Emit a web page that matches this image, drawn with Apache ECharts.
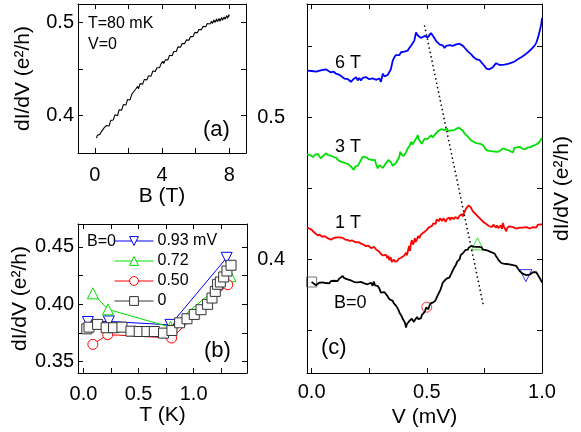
<!DOCTYPE html>
<html><head><meta charset="utf-8">
<script src="https://cdn.jsdelivr.net/npm/echarts@6/dist/echarts.min.js"></script>
<style>html,body{margin:0;padding:0;background:#fff}#c{width:581px;height:432px}</style>
</head><body><div id="c"></div>
<script>
// ---------- Panel (a): dI/dV vs B at T=80 mK, V=0 ----------
const aB = [0.10,0.15,0.20,0.30,0.40,0.45,0.55,0.60,0.70,0.80,0.85,0.95,1.05,1.10,1.20,1.30,1.35,1.45,1.55,1.60,1.70,1.80,1.85,1.95,2.05,2.10,2.20,2.30,2.35,2.45,2.55,2.60,2.70,2.80,2.85,2.95,3.05,3.10,3.20,3.30,3.35,3.45,3.55,3.60,3.70,3.80,3.85,3.95,4.05,4.10,4.20,4.30,4.35,4.45,4.55,4.60,4.70,4.80,4.85,4.95,5.05,5.10,5.20,5.30,5.35,5.45,5.55,5.60,5.70,5.80,5.85,5.95,6.05,6.10,6.20,6.30,6.35,6.45,6.55,6.60,6.70,6.80,6.85,6.95,7.00,7.10,7.15,7.25,7.30,7.40,7.45,7.55,7.60,7.70,7.75,7.85,7.90,7.98,8.00];
const aG = [0.3760,0.3790,0.3775,0.3800,0.3830,0.3815,0.3870,0.3850,0.3895,0.3905,0.3890,0.3950,0.3970,0.3955,0.4010,0.4020,0.4000,0.4065,0.4080,0.4060,0.4120,0.4135,0.4115,0.4175,0.4190,0.4170,0.4230,0.4255,0.4235,0.4290,0.4315,0.4290,0.4345,0.4360,0.4340,0.4390,0.4410,0.4385,0.4430,0.4445,0.4425,0.4480,0.4500,0.4475,0.4515,0.4535,0.4515,0.4560,0.4585,0.4560,0.4600,0.4620,0.4600,0.4650,0.4665,0.4645,0.4690,0.4710,0.4690,0.4740,0.4755,0.4735,0.4775,0.4795,0.4775,0.4815,0.4835,0.4810,0.4850,0.4870,0.4850,0.4895,0.4910,0.4890,0.4925,0.4945,0.4925,0.4960,0.4975,0.4955,0.4990,0.5005,0.4985,0.5015,0.4990,0.5030,0.5000,0.5040,0.5010,0.5045,0.5015,0.5055,0.5025,0.5060,0.5035,0.5075,0.5045,0.5085,0.5065];

// ---------- Panel (b): dI/dV vs T at B=0 for several V ----------
const bT93 = [0.04,0.23,0.79,1.30];
const bG93 = [0.3845,0.3850,0.3820,0.4405];
const bT72 = [0.085,0.222,0.79,1.335];
const bG72 = [0.4095,0.3955,0.3800,0.4245];
const bT50 = [0.085,0.22,0.80,1.31];
const bG50 = [0.3650,0.3735,0.3705,0.4170];
const bT0 = [0.03,0.05,0.128,0.206,0.273,0.349,0.431,0.506,0.576,0.643,0.727,0.803,0.873,0.94,1.006,1.067,1.127,1.167,1.197,1.218,1.243,1.273,1.303,1.34];
const bG0 = [0.3785,0.3800,0.3824,0.3795,0.3795,0.3800,0.3765,0.3762,0.3762,0.3762,0.3748,0.3771,0.3838,0.3873,0.3911,0.3952,0.3999,0.4054,0.4112,0.4174,0.4194,0.4238,0.4290,0.4340];
const bNames = ['0.93 mV','0.72','0.50','0'];

// ---------- Panel (c): dI/dV vs V at several B ----------
const c6T = [[-0.02,0.5330],[0.0,0.5328],[0.02,0.5324],[0.035,0.5330],[0.05,0.5336],[0.062,0.5340],[0.075,0.5326],[0.084,0.5318],[0.095,0.5324],[0.105,0.5310],[0.113,0.5306],[0.122,0.5300],[0.13,0.5290],[0.142,0.5275],[0.15,0.5288],[0.158,0.5270],[0.165,0.5282],[0.171,0.5252],[0.18,0.5268],[0.186,0.5280],[0.193,0.5285],[0.2,0.5262],[0.207,0.5278],[0.214,0.5262],[0.222,0.5280],[0.229,0.5270],[0.236,0.5285],[0.243,0.5286],[0.25,0.5270],[0.258,0.5282],[0.265,0.5276],[0.272,0.5288],[0.279,0.5266],[0.287,0.5262],[0.294,0.5275],[0.301,0.5252],[0.309,0.5308],[0.316,0.5290],[0.323,0.5290],[0.33,0.5300],[0.337,0.5308],[0.344,0.5340],[0.352,0.5400],[0.359,0.5425],[0.366,0.5440],[0.374,0.5448],[0.381,0.5440],[0.388,0.5460],[0.395,0.5450],[0.402,0.5465],[0.41,0.5470],[0.417,0.5472],[0.424,0.5490],[0.432,0.5507],[0.439,0.5520],[0.446,0.5542],[0.45,0.5530],[0.453,0.5600],[0.46,0.5580],[0.468,0.5577],[0.475,0.5560],[0.483,0.5565],[0.49,0.5575],[0.497,0.5589],[0.504,0.5565],[0.511,0.5570],[0.518,0.5595],[0.526,0.5600],[0.533,0.5560],[0.54,0.5540],[0.548,0.5530],[0.555,0.5515],[0.562,0.5505],[0.57,0.5507],[0.577,0.5490],[0.584,0.5505],[0.591,0.5495],[0.6,0.5510],[0.605,0.5500],[0.613,0.5505],[0.62,0.5510],[0.628,0.5515],[0.635,0.5520],[0.642,0.5520],[0.65,0.5513],[0.657,0.5505],[0.665,0.5490],[0.672,0.5478],[0.678,0.5466],[0.686,0.5455],[0.693,0.5445],[0.7,0.5430],[0.707,0.5420],[0.714,0.5412],[0.722,0.5400],[0.729,0.5405],[0.736,0.5390],[0.743,0.5378],[0.75,0.5365],[0.758,0.5345],[0.765,0.5338],[0.772,0.5340],[0.78,0.5345],[0.787,0.5355],[0.794,0.5368],[0.801,0.5383],[0.808,0.5378],[0.816,0.5370],[0.823,0.5374],[0.837,0.5373],[0.852,0.5378],[0.866,0.5385],[0.881,0.5395],[0.895,0.5410],[0.91,0.5425],[0.924,0.5440],[0.939,0.5460],[0.953,0.5480],[0.968,0.5507],[0.976,0.5530],[0.983,0.5565],[0.99,0.5610],[0.997,0.5660],[1.0,0.5700]];
const c3T = [[-0.02,0.4741],[-0.005,0.4735],[0.005,0.4722],[0.015,0.4738],[0.026,0.4745],[0.033,0.4728],[0.04,0.4713],[0.05,0.4730],[0.062,0.4748],[0.072,0.4735],[0.084,0.4731],[0.095,0.4722],[0.106,0.4717],[0.115,0.4700],[0.127,0.4689],[0.135,0.4695],[0.149,0.4678],[0.16,0.4670],[0.171,0.4654],[0.177,0.4665],[0.183,0.4631],[0.19,0.4655],[0.193,0.4666],[0.2,0.4660],[0.207,0.4678],[0.214,0.4690],[0.222,0.4725],[0.229,0.4731],[0.236,0.4720],[0.243,0.4731],[0.25,0.4705],[0.258,0.4713],[0.265,0.4700],[0.275,0.4701],[0.28,0.4670],[0.287,0.4642],[0.294,0.4665],[0.301,0.4666],[0.309,0.4645],[0.316,0.4654],[0.323,0.4680],[0.333,0.4701],[0.338,0.4690],[0.345,0.4683],[0.352,0.4660],[0.359,0.4654],[0.366,0.4680],[0.374,0.4689],[0.38,0.4720],[0.385,0.4759],[0.39,0.4740],[0.395,0.4742],[0.4,0.4728],[0.406,0.4717],[0.411,0.4760],[0.417,0.4783],[0.425,0.4800],[0.432,0.4829],[0.438,0.4810],[0.446,0.4818],[0.453,0.4850],[0.461,0.4876],[0.466,0.4845],[0.472,0.4834],[0.478,0.4815],[0.483,0.4806],[0.49,0.4850],[0.497,0.4864],[0.504,0.4850],[0.511,0.4848],[0.519,0.4876],[0.525,0.4860],[0.53,0.4857],[0.538,0.4885],[0.548,0.4904],[0.555,0.4912],[0.562,0.4918],[0.57,0.4910],[0.577,0.4911],[0.582,0.4925],[0.587,0.4923],[0.592,0.4905],[0.598,0.4895],[0.605,0.4910],[0.613,0.4923],[0.62,0.4912],[0.627,0.4911],[0.632,0.4925],[0.635,0.4927],[0.642,0.4927],[0.649,0.4923],[0.657,0.4905],[0.664,0.4888],[0.672,0.4875],[0.678,0.4865],[0.685,0.4853],[0.693,0.4838],[0.7,0.4825],[0.711,0.4822],[0.722,0.4818],[0.732,0.4815],[0.743,0.4806],[0.75,0.4790],[0.758,0.4771],[0.768,0.4765],[0.78,0.4764],[0.795,0.4760],[0.809,0.4759],[0.82,0.4768],[0.83,0.4783],[0.842,0.4776],[0.852,0.4771],[0.864,0.4762],[0.874,0.4755],[0.881,0.4788],[0.89,0.4790],[0.903,0.4794],[0.914,0.4782],[0.925,0.4775],[0.932,0.4786],[0.939,0.4790],[0.95,0.4792],[0.961,0.4800],[0.972,0.4808],[0.983,0.4818],[0.992,0.4835],[1.0,0.4857]];
const c1T = [[-0.02,0.4225],[-0.01,0.4218],[0.0,0.4210],[0.008,0.4195],[0.015,0.4182],[0.026,0.4170],[0.035,0.4175],[0.045,0.4160],[0.055,0.4165],[0.062,0.4152],[0.072,0.4148],[0.084,0.4140],[0.095,0.4150],[0.106,0.4156],[0.113,0.4148],[0.12,0.4155],[0.128,0.4145],[0.135,0.4152],[0.145,0.4140],[0.156,0.4138],[0.165,0.4130],[0.175,0.4135],[0.185,0.4126],[0.195,0.4120],[0.205,0.4122],[0.214,0.4112],[0.225,0.4105],[0.236,0.4093],[0.245,0.4098],[0.258,0.4080],[0.265,0.4092],[0.272,0.4088],[0.28,0.4070],[0.287,0.4075],[0.294,0.4055],[0.3,0.4040],[0.305,0.4045],[0.309,0.4028],[0.316,0.4040],[0.323,0.4032],[0.328,0.4010],[0.333,0.4025],[0.338,0.3995],[0.343,0.4015],[0.348,0.3982],[0.352,0.3977],[0.357,0.4000],[0.362,0.3985],[0.367,0.3995],[0.372,0.3988],[0.378,0.4005],[0.383,0.4000],[0.388,0.4012],[0.394,0.4005],[0.4,0.4025],[0.405,0.4018],[0.41,0.4048],[0.414,0.4030],[0.418,0.4060],[0.423,0.4095],[0.427,0.4060],[0.431,0.4110],[0.435,0.4135],[0.44,0.4105],[0.444,0.4120],[0.448,0.4150],[0.452,0.4125],[0.457,0.4140],[0.462,0.4165],[0.468,0.4150],[0.474,0.4175],[0.48,0.4170],[0.486,0.4190],[0.492,0.4180],[0.498,0.4205],[0.504,0.4215],[0.51,0.4228],[0.516,0.4240],[0.522,0.4235],[0.528,0.4255],[0.533,0.4265],[0.538,0.4250],[0.543,0.4282],[0.548,0.4292],[0.553,0.4270],[0.557,0.4290],[0.562,0.4287],[0.567,0.4272],[0.572,0.4290],[0.577,0.4280],[0.582,0.4265],[0.587,0.4285],[0.591,0.4280],[0.597,0.4295],[0.602,0.4278],[0.607,0.4296],[0.613,0.4296],[0.618,0.4285],[0.624,0.4300],[0.63,0.4290],[0.635,0.4287],[0.641,0.4305],[0.646,0.4298],[0.652,0.4320],[0.657,0.4303],[0.662,0.4330],[0.667,0.4345],[0.671,0.4360],[0.676,0.4372],[0.681,0.4380],[0.685,0.4390],[0.69,0.4370],[0.695,0.4355],[0.7,0.4339],[0.708,0.4325],[0.715,0.4315],[0.722,0.4303],[0.73,0.4290],[0.737,0.4278],[0.743,0.4268],[0.75,0.4257],[0.758,0.4250],[0.765,0.4238],[0.772,0.4233],[0.778,0.4242],[0.784,0.4230],[0.789,0.4245],[0.794,0.4240],[0.8,0.4225],[0.805,0.4240],[0.81,0.4220],[0.816,0.4222],[0.821,0.4240],[0.826,0.4215],[0.83,0.4257],[0.835,0.4230],[0.84,0.4218],[0.845,0.4198],[0.85,0.4225],[0.855,0.4215],[0.859,0.4233],[0.866,0.4222],[0.874,0.4228],[0.881,0.4222],[0.888,0.4218],[0.895,0.4228],[0.903,0.4225],[0.91,0.4233],[0.918,0.4225],[0.925,0.4222],[0.932,0.4228],[0.939,0.4222],[0.946,0.4218],[0.954,0.4230],[0.961,0.4228],[0.968,0.4233],[0.975,0.4225],[0.982,0.4245],[0.99,0.4257],[0.995,0.4245],[1.0,0.4252]];
const cB0 = [[0.0,0.3841],[0.008,0.3830],[0.019,0.3818],[0.026,0.3828],[0.033,0.3836],[0.04,0.3826],[0.048,0.3838],[0.055,0.3841],[0.062,0.3834],[0.07,0.3840],[0.077,0.3832],[0.084,0.3848],[0.091,0.3860],[0.098,0.3850],[0.106,0.3855],[0.113,0.3848],[0.12,0.3865],[0.128,0.3870],[0.135,0.3883],[0.142,0.3868],[0.149,0.3855],[0.156,0.3860],[0.164,0.3848],[0.171,0.3852],[0.178,0.3845],[0.185,0.3841],[0.192,0.3848],[0.2,0.3838],[0.207,0.3836],[0.214,0.3842],[0.222,0.3832],[0.229,0.3832],[0.236,0.3822],[0.243,0.3825],[0.25,0.3820],[0.258,0.3836],[0.265,0.3815],[0.27,0.3845],[0.275,0.3818],[0.281,0.3822],[0.287,0.3813],[0.294,0.3795],[0.301,0.3766],[0.305,0.3780],[0.309,0.3755],[0.316,0.3770],[0.323,0.3766],[0.328,0.3745],[0.333,0.3752],[0.338,0.3720],[0.345,0.3728],[0.352,0.3708],[0.357,0.3690],[0.362,0.3698],[0.367,0.3673],[0.372,0.3660],[0.377,0.3645],[0.381,0.3626],[0.386,0.3618],[0.391,0.3600],[0.396,0.3580],[0.4,0.3592],[0.405,0.3555],[0.41,0.3521],[0.414,0.3545],[0.418,0.3535],[0.425,0.3568],[0.43,0.3555],[0.435,0.3582],[0.439,0.3580],[0.444,0.3560],[0.449,0.3575],[0.453,0.3568],[0.458,0.3595],[0.463,0.3580],[0.468,0.3591],[0.474,0.3585],[0.479,0.3610],[0.483,0.3603],[0.488,0.3625],[0.493,0.3640],[0.497,0.3661],[0.503,0.3665],[0.507,0.3650],[0.511,0.3673],[0.516,0.3690],[0.521,0.3685],[0.526,0.3696],[0.531,0.3710],[0.535,0.3705],[0.54,0.3720],[0.545,0.3740],[0.55,0.3755],[0.555,0.3766],[0.56,0.3790],[0.565,0.3815],[0.569,0.3836],[0.574,0.3845],[0.579,0.3855],[0.584,0.3860],[0.589,0.3868],[0.593,0.3872],[0.598,0.3872],[0.603,0.3890],[0.608,0.3905],[0.613,0.3918],[0.618,0.3940],[0.622,0.3950],[0.627,0.3965],[0.632,0.3985],[0.637,0.3995],[0.642,0.4000],[0.647,0.4030],[0.652,0.4020],[0.657,0.4045],[0.662,0.4040],[0.667,0.4065],[0.672,0.4055],[0.678,0.4070],[0.683,0.4085],[0.688,0.4078],[0.693,0.4095],[0.698,0.4085],[0.703,0.4090],[0.708,0.4080],[0.713,0.4088],[0.72,0.4095],[0.727,0.4088],[0.733,0.4075],[0.738,0.4085],[0.743,0.4070],[0.748,0.4075],[0.753,0.4068],[0.758,0.4060],[0.765,0.4062],[0.772,0.4050],[0.779,0.4052],[0.786,0.4040],[0.794,0.4042],[0.8,0.4025],[0.806,0.4010],[0.812,0.3995],[0.818,0.3988],[0.823,0.3975],[0.828,0.3968],[0.833,0.3970],[0.838,0.3962],[0.845,0.3968],[0.852,0.3958],[0.859,0.3965],[0.866,0.3955],[0.874,0.3960],[0.881,0.3950],[0.888,0.3955],[0.896,0.3935],[0.903,0.3918],[0.91,0.3905],[0.918,0.3898],[0.925,0.3892],[0.932,0.3890],[0.94,0.3892],[0.947,0.3893],[0.954,0.3900],[0.961,0.3910],[0.968,0.3918],[0.975,0.3910],[0.983,0.3900],[0.99,0.3870],[0.995,0.3855],[1.0,0.3837]];
const cGuide = [[0.49,0.565],[0.745,0.368]];
const cMarkV = [0.0,0.50,0.72,0.93];
const cMarkG = [0.3841,0.3664,0.4110,0.3886];

// ---------- tick values ----------
const aXTicks=[0,2,4,6,8], aXLabels=[0,4,8];
const aYTicks=[0.4,0.45,0.5], aYLabels=[0.4,0.5];
const bXTicks=[0,0.25,0.5,0.75,1,1.25], bXLabels=[0,0.5,1];
const bYTicks=[0.35,0.375,0.4,0.425,0.45], bYLabels=[0.35,0.4,0.45];
const cXTicks=[0,0.25,0.5,0.75,1], cXLabels=[0,0.5,1];
const cYTicks=[0.35,0.4,0.45,0.5,0.55], cYLabels=[0.4,0.5];

const FONT = '"Liberation Sans", Arial, Helvetica, sans-serif';
const zip = (x,y)=>x.map((v,i)=>[v,y[i]]);
const BLUE='#0000ff', GREEN='#00e000', RED='#ff0000', BLACK='#000000';

function xAx(grid,pos,min,max,ticks,labels,fmt,margin,name,nameGap){
  return {type:'value',gridIndex:grid,position:pos,min:min,max:max,
    axisLine:{show:true,onZero:false,lineStyle:{color:'#000',width:1}},
    axisTick:{show:true,inside:true,length:5,customValues:ticks,lineStyle:{color:'#000',width:1}},
    axisLabel:{show:!!labels,customValues:labels||[],margin:margin||10,color:'#000',fontSize:20,fontFamily:FONT,formatter:fmt},
    splitLine:{show:false},
    name:name||'',nameLocation:'middle',nameGap:nameGap||30,
    nameTextStyle:{color:'#000',fontSize:21,fontFamily:FONT}};
}
function yAx(grid,pos,min,max,ticks,labels,fmt,margin,name,nameGap){
  return {type:'value',gridIndex:grid,position:pos,min:min,max:max,
    axisLine:{show:true,onZero:false,lineStyle:{color:'#000',width:1}},
    axisTick:{show:true,inside:true,length:5,customValues:ticks,lineStyle:{color:'#000',width:1}},
    axisLabel:{show:!!labels,customValues:labels||[],margin:margin||4,color:'#000',fontSize:20,fontFamily:FONT,formatter:fmt},
    splitLine:{show:false},
    name:name||'',nameLocation:'middle',nameGap:nameGap||44,
    nameTextStyle:{color:'#000',fontSize:21,fontFamily:FONT}};
}
const f0=v=>String(Math.round(v)), f1=v=>v.toFixed(1), f2=v=>v.toFixed(2);
const YNAME='dI/dV (e\u00B2/h)';

const chart = echarts.init(document.getElementById('c'), null, {renderer:'canvas'});
const hollow = (c)=>({color:'#fff',borderColor:c,borderWidth:1});
const clear = (c)=>({color:'rgba(255,255,255,0)',borderColor:c,borderWidth:1});

const option = {
  animation:false,
  backgroundColor:'#fff',
  textStyle:{fontFamily:FONT},
  grid:[
    {left:78,top:4,width:168,height:149,outerBoundsMode:'none',containLabel:false},
    {left:78,top:224,width:169,height:149,outerBoundsMode:'none',containLabel:false},
    {left:307,top:4,width:235,height:369,outerBoundsMode:'none',containLabel:false}
  ],
  xAxis:[
    xAx(0,'bottom',-1,9,aXTicks,aXLabels,f0,12,'B (T)',27),
    xAx(0,'top',-1,9,aXTicks,null,f0),
    xAx(1,'bottom',-0.05,1.485,bXTicks,bXLabels,f1,11,'T (K)',27),
    xAx(1,'top',-0.05,1.485,bXTicks,null,f1),
    xAx(2,'bottom',-0.02,1.0,cXTicks,cXLabels,f1,9,'V (mV)',31),
    xAx(2,'top',-0.02,1.0,cXTicks,null,f1)
  ],
  yAxis:[
    yAx(0,'left',0.36,0.52,aYTicks,aYLabels,f1,4,YNAME,44),
    yAx(0,'right',0.36,0.52,aYTicks,null,f1),
    yAx(1,'left',0.34,0.47,bYTicks,bYLabels,f2,4,YNAME,44),
    yAx(1,'right',0.34,0.47,bYTicks,null,f2),
    yAx(2,'left',0.32,0.58,cYTicks,cYLabels,f1,22),
    yAx(2,'right',0.32,0.58,cYTicks,null,f1,4,YNAME,10)
  ],
  legend:{
    show:true,selectedMode:false,orient:'vertical',left:114,top:233,padding:0,
    itemWidth:39,itemHeight:11,itemGap:4,
    itemStyle:{borderWidth:1},
    lineStyle:{width:1},
    textStyle:{color:'#000',fontSize:16,fontFamily:FONT,padding:[0,0,0,-1]},
    data:bNames
  },
  series:[
    {name:'a',type:'line',xAxisIndex:0,yAxisIndex:0,data:zip(aB,aG),showSymbol:false,symbol:'none',
      lineStyle:{color:BLACK,width:1.1},silent:true},
    {name:bNames[0],type:'line',xAxisIndex:2,yAxisIndex:2,data:zip(bT93,bG93),symbol:'triangle',symbolRotate:180,symbolSize:11,
      itemStyle:hollow(BLUE),lineStyle:{color:BLUE,width:1}},
    {name:bNames[1],type:'line',xAxisIndex:2,yAxisIndex:2,data:zip(bT72,bG72),symbol:'triangle',symbolSize:11,
      itemStyle:hollow(GREEN),lineStyle:{color:GREEN,width:1}},
    {name:bNames[2],type:'line',xAxisIndex:2,yAxisIndex:2,data:zip(bT50,bG50),symbol:'circle',symbolSize:10,
      itemStyle:hollow(RED),lineStyle:{color:RED,width:1}},
    {name:bNames[3],type:'line',xAxisIndex:2,yAxisIndex:2,data:zip(bT0,bG0),symbol:'rect',symbolSize:10,
      itemStyle:{color:'#fafafa',borderColor:'#333',borderWidth:1},lineStyle:{color:'#333',width:1}},
    {name:'6 T',type:'line',xAxisIndex:4,yAxisIndex:4,data:c6T,symbol:'none',lineStyle:{color:BLUE,width:1.8}},
    {name:'3 T',type:'line',xAxisIndex:4,yAxisIndex:4,data:c3T,symbol:'none',lineStyle:{color:GREEN,width:1.8}},
    {name:'1 T',type:'line',xAxisIndex:4,yAxisIndex:4,data:c1T,symbol:'none',lineStyle:{color:RED,width:1.8}},
    {name:'B=0',type:'line',xAxisIndex:4,yAxisIndex:4,data:cB0,symbol:'none',lineStyle:{color:BLACK,width:1.8}},
    {name:'guide',type:'line',xAxisIndex:4,yAxisIndex:4,data:cGuide,symbol:'none',lineStyle:{color:BLACK,width:1.5,type:[1.5,3]}},
    {name:'m0',type:'scatter',xAxisIndex:4,yAxisIndex:4,data:[[cMarkV[0],cMarkG[0]]],symbol:'rect',symbolSize:10,itemStyle:clear('#555')},
    {name:'m50',type:'scatter',xAxisIndex:4,yAxisIndex:4,data:[[cMarkV[1],cMarkG[1]]],symbol:'circle',symbolSize:10,itemStyle:clear(RED)},
    {name:'m72',type:'scatter',xAxisIndex:4,yAxisIndex:4,data:[[cMarkV[2],cMarkG[2]]],symbol:'triangle',symbolSize:12,itemStyle:clear(GREEN)},
    {name:'m93',type:'scatter',xAxisIndex:4,yAxisIndex:4,data:[[cMarkV[3],cMarkG[3]]],symbol:'triangle',symbolRotate:180,symbolSize:12,itemStyle:clear(BLUE)}
  ],
  graphic:[
    {type:'text',x:88,y:24,style:{text:'T=80 mK',fontSize:16,fontFamily:FONT,fill:'#000',verticalAlign:'middle'}},
    {type:'text',x:88,y:45,style:{text:'V=0',fontSize:16,fontFamily:FONT,fill:'#000',verticalAlign:'middle'}},
    {type:'text',x:203,y:130,style:{text:'(a)',fontSize:22,fontFamily:FONT,fill:'#000',verticalAlign:'middle'}},
    {type:'text',x:87,y:242,style:{text:'B=0',fontSize:16,fontFamily:FONT,fill:'#000',verticalAlign:'middle'}},
    {type:'text',x:204,y:351,style:{text:'(b)',fontSize:22,fontFamily:FONT,fill:'#000',verticalAlign:'middle'}},
    {type:'text',x:335,y:63,style:{text:'6 T',fontSize:18,fontFamily:FONT,fill:'#000',verticalAlign:'middle'}},
    {type:'text',x:335,y:147,style:{text:'3 T',fontSize:18,fontFamily:FONT,fill:'#000',verticalAlign:'middle'}},
    {type:'text',x:335,y:223,style:{text:'1 T',fontSize:18,fontFamily:FONT,fill:'#000',verticalAlign:'middle'}},
    {type:'text',x:334,y:303,style:{text:'B=0',fontSize:18,fontFamily:FONT,fill:'#000',verticalAlign:'middle'}},
    {type:'text',x:321,y:348,style:{text:'(c)',fontSize:22,fontFamily:FONT,fill:'#000',verticalAlign:'middle'}}
  ]
};
chart.setOption(option);
</script></body></html>
